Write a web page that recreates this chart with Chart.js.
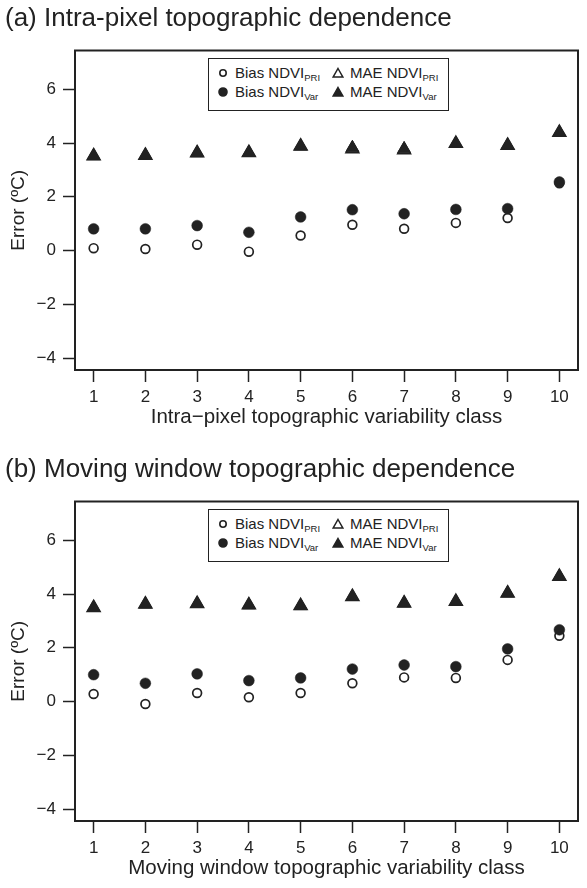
<!DOCTYPE html>
<html>
<head>
<meta charset="utf-8">
<script src="https://cdn.jsdelivr.net/npm/chart.js@4.4.0/dist/chart.umd.min.js"></script>
<style>
  html, body { margin: 0; padding: 0; background: #fff; }
  body { width: 587px; height: 888px; position: relative; overflow: hidden;
         font-family: "Liberation Sans", Arial, Helvetica, sans-serif; color: #222; }
  .panel { position: absolute; left: 0; width: 587px; height: 437px; }
  .legend { position: absolute; left: 208px; top: 58px; width: 241px; height: 53px;
            box-sizing: border-box; border: 1.5px solid #222; background: #fff;
            padding: 5px 0 0 8px; display: grid; grid-template-columns: 115px auto;
            grid-template-rows: 18.5px 18.5px; grid-auto-flow: column; }
  .legend .item { display: flex; align-items: center; font-size: 15px; line-height: 18.5px; white-space: nowrap; }
  .legend svg { margin-right: 6px; flex: none; }
  .legend sub { font-size: 9.5px; vertical-align: -3px; line-height: 0; }
</style>
</head>
<body>
<div class="panel" style="top:0px">
  <canvas id="chartA" width="587" height="437"></canvas>
  <div class="legend" id="legendA"></div>
</div>
<div class="panel" style="top:451px">
  <canvas id="chartB" width="587" height="437"></canvas>
  <div class="legend" id="legendB"></div>
</div>
<script>
const classes = [1, 2, 3, 4, 5, 6, 7, 8, 9, 10];
const yTicks = [-4, -2, 0, 2, 4, 6];

// (a) intra-pixel topographic variability
const biasPriA = [0.09, 0.06, 0.22, -0.04, 0.56, 0.96, 0.81, 1.03, 1.21, 2.50];
const biasVarA = [0.81, 0.81, 0.93, 0.68, 1.25, 1.52, 1.37, 1.53, 1.56, 2.55];
const maePriA  = [3.52, 3.54, 3.63, 3.64, 3.88, 3.78, 3.74, 3.98, 3.91, 4.39];
const maeVarA  = [3.52, 3.54, 3.63, 3.64, 3.88, 3.82, 3.78, 3.98, 3.91, 4.39];

// (b) moving window topographic variability
const biasPriB = [0.28, -0.09, 0.32, 0.16, 0.32, 0.68, 0.90, 0.88, 1.55, 2.45];
const biasVarB = [1.00, 0.68, 1.03, 0.78, 0.88, 1.21, 1.36, 1.30, 1.96, 2.67];
const maePriB  = [3.49, 3.62, 3.64, 3.59, 3.56, 3.90, 3.66, 3.72, 4.03, 4.65];
const maeVarB  = [3.49, 3.62, 3.64, 3.59, 3.56, 3.90, 3.66, 3.72, 4.03, 4.65];

const ink = '#222';
const font = '"Liberation Sans", Arial, Helvetica, sans-serif';

// draws the closed box around the plot area
const frame = {
  id: 'frame',
  beforeDatasetsDraw(chart) {
    const { ctx, chartArea: a } = chart;
    ctx.save();
    ctx.strokeStyle = ink;
    ctx.lineWidth = 2;
    ctx.strokeRect(a.left, a.top, a.right - a.left, a.bottom - a.top);
    ctx.restore();
  }
};

function pts(vals) {
  return classes.map((c, i) => ({ x: c, y: vals[i] }));
}

function markerSvg(ds) {
  const fill = ds.backgroundColor;
  if (ds.pointStyle === 'circle') {
    const r = fill === '#fff' ? 3.2 : 4;
    return `<svg width="12" height="12"><circle cx="6" cy="6" r="${r}" fill="${fill}" stroke="${ink}" stroke-width="1.6"/></svg>`;
  }
  return `<svg width="12" height="12"><polygon points="6,1.5 10.8,10 1.2,10" fill="${fill}" stroke="${ink}" stroke-width="1.5" stroke-linejoin="miter"/></svg>`;
}

function buildLegend(chart, box) {
  chart.data.datasets.forEach(ds => {
    const item = document.createElement('div');
    item.className = 'item';
    item.innerHTML = markerSvg(ds) + '<span>' + ds.label + '<sub>' + ds.sub + '</sub></span>';
    box.appendChild(item);
  });
}

function makeChart(canvasId, legendId, title, xTitle, biasPri, biasVar, maePri, maeVar) {
  const chart = new Chart(document.getElementById(canvasId), {
    type: 'scatter',
    data: {
      datasets: [
        { label: 'Bias NDVI', sub: 'PRI', data: pts(biasPri), order: 4,
          pointStyle: 'circle', pointRadius: 4.4, borderWidth: 1.7,
          backgroundColor: '#fff', borderColor: ink },
        { label: 'Bias NDVI', sub: 'Var', data: pts(biasVar), order: 3,
          pointStyle: 'circle', pointRadius: 5.4, borderWidth: 0.5,
          backgroundColor: ink, borderColor: ink },
        { label: 'MAE NDVI', sub: 'PRI', data: pts(maePri), order: 2,
          pointStyle: 'triangle', pointRadius: 7.5, borderWidth: 1.5,
          backgroundColor: '#fff', borderColor: ink },
        { label: 'MAE NDVI', sub: 'Var', data: pts(maeVar), order: 1,
          pointStyle: 'triangle', pointRadius: 7.5, borderWidth: 1,
          backgroundColor: ink, borderColor: ink }
      ]
    },
    options: {
      responsive: false,
      animation: false,
      events: [],
      clip: false,
      layout: { padding: { left: 5, right: 2, top: 0, bottom: 7 } },
      plugins: {
        legend: { display: false },
        tooltip: { enabled: false },
        title: {
          display: true, text: title, align: 'start', color: ink,
          font: { family: font, size: 26, weight: 'normal', lineHeight: 1.2 },
          padding: { top: 3, bottom: 16.3 }
        }
      },
      scales: {
        x: {
          type: 'linear', min: 0.64, max: 10.36,
          afterBuildTicks: s => { s.ticks = classes.map(v => ({ value: v })); },
          afterFit: s => { s.height = 60; },
          border: { display: false },
          grid: { drawOnChartArea: false, drawTicks: true, tickLength: 12, tickWidth: 1.5, tickColor: ink },
          ticks: { color: ink, padding: 5, font: { family: font, size: 17 }, maxRotation: 0 },
          title: { display: true, text: xTitle, color: ink, padding: { top: 0, bottom: 0 },
                   font: { family: font, size: 20.5 } }
        },
        y: {
          type: 'linear', min: -4.44, max: 7.44,
          afterBuildTicks: s => { s.ticks = yTicks.map(v => ({ value: v })); },
          afterFit: s => { s.width = 70; },
          border: { display: false },
          grid: { drawOnChartArea: false, drawTicks: true, tickLength: 12, tickWidth: 1.5, tickColor: ink },
          ticks: { color: ink, padding: 7, font: { family: font, size: 17 },
                   callback: v => String(v).replace('-', '\u2212') },
          title: { display: true, text: 'Error (\u00baC)', color: ink, padding: { top: 2, bottom: 0 },
                   font: { family: font, size: 19 } }
        }
      }
    },
    plugins: [frame]
  });
  buildLegend(chart, document.getElementById(legendId));
  return chart;
}

makeChart('chartA', 'legendA', '(a) Intra-pixel topographic dependence',
  'Intra\u2212pixel topographic variability class', biasPriA, biasVarA, maePriA, maeVarA);
makeChart('chartB', 'legendB', '(b) Moving window topographic dependence',
  'Moving window topographic variability class', biasPriB, biasVarB, maePriB, maeVarB);
</script>
</body>
</html>
